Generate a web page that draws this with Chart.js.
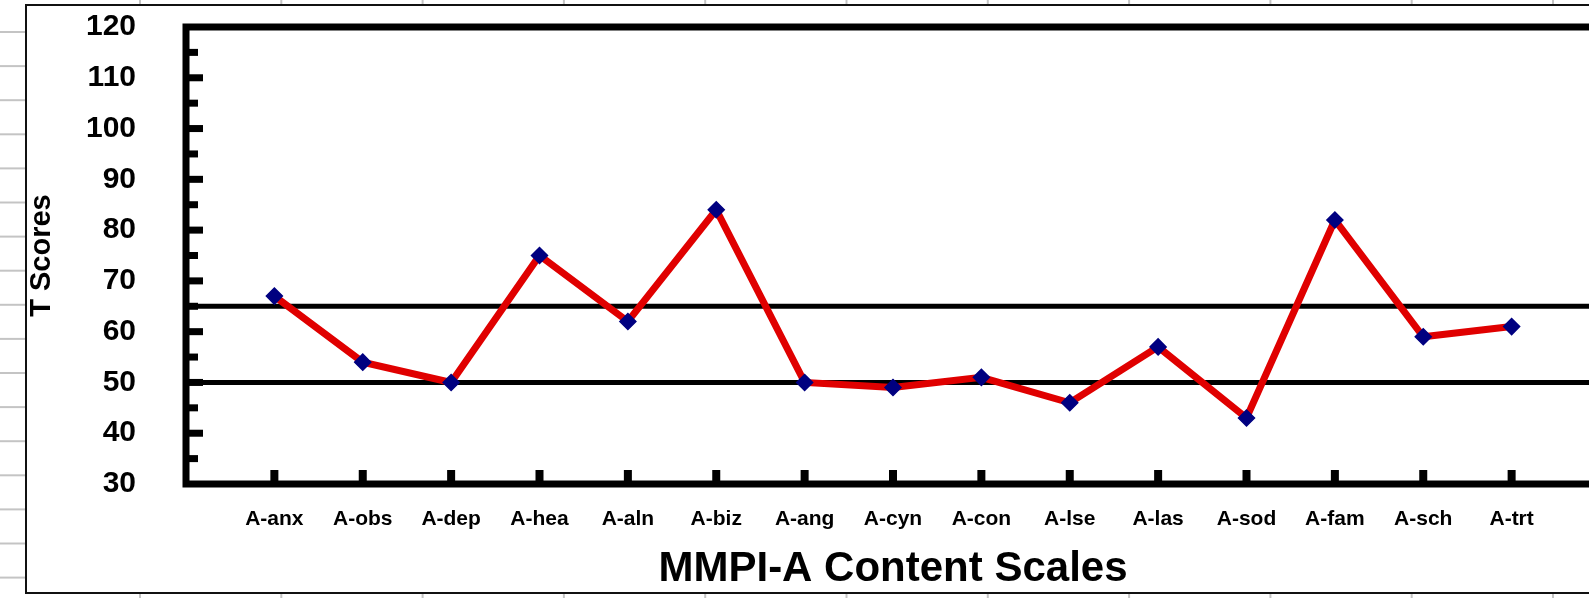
<!DOCTYPE html>
<html>
<head>
<meta charset="utf-8">
<script src="https://cdn.jsdelivr.net/npm/chart.js@4"></script>
<style>
  html, body { margin: 0; padding: 0; overflow: hidden; background: #fff; }
  #chart { display: block; }
</style>
</head>
<body>
<canvas id="chart" width="1650" height="598"></canvas>
<script>
const scales  = ['A-anx', 'A-obs', 'A-dep', 'A-hea', 'A-aln', 'A-biz', 'A-ang', 'A-cyn',
                 'A-con', 'A-lse', 'A-las', 'A-sod', 'A-fam', 'A-sch', 'A-trt'];
const tScores = [67, 54, 50, 75, 62, 84, 50, 49, 51, 46, 57, 43, 82, 59, 61];
const refLines = [50, 65];
const yMin = 30, yMax = 120;

const FONT = '"Liberation Sans", Arial, Helvetica, sans-serif';

// spreadsheet cells, outer frame, reference lines, plot border and inside ticks
const decor = {
  id: 'decor',
  beforeDraw(chart) {
    const ctx = chart.ctx;
    ctx.save();
    ctx.fillStyle = '#fff';
    ctx.fillRect(0, 0, chart.width, chart.height);
    ctx.strokeStyle = '#c4c4c4';
    ctx.lineWidth = 2;
    for (let yy = 32; yy < chart.height; yy += 34.1) {
      ctx.beginPath(); ctx.moveTo(0, yy); ctx.lineTo(26, yy); ctx.stroke();
    }
    for (let xx = 140; xx < chart.width; xx += 141.3) {
      ctx.beginPath(); ctx.moveTo(xx, 0); ctx.lineTo(xx, 5); ctx.stroke();
      ctx.beginPath(); ctx.moveTo(xx, 593); ctx.lineTo(xx, chart.height); ctx.stroke();
    }
    ctx.strokeStyle = '#111';
    ctx.lineWidth = 2;
    ctx.strokeRect(26, 5, chart.width, 588);
    ctx.restore();
  },
  beforeDatasetsDraw(chart) {
    const { ctx, chartArea: a, scales: { y } } = chart;
    ctx.save();
    ctx.strokeStyle = '#000';
    ctx.lineWidth = 5;
    refLines.forEach(v => {
      const py = y.getPixelForValue(v);
      ctx.beginPath(); ctx.moveTo(a.left, py); ctx.lineTo(a.right, py); ctx.stroke();
    });
    ctx.restore();
  },
  afterDatasetsDraw(chart) {
    const { ctx, chartArea: a, scales: { x, y } } = chart;
    ctx.save();
    ctx.fillStyle = '#000';
    y.ticks.forEach(t => {
      if (t.value <= y.min || t.value >= y.max) return;
      const py = y.getPixelForValue(t.value);
      const len = t.value % 10 === 0 ? 17 : 12;
      ctx.fillRect(a.left, py - 3.5, len, 7);
    });
    x.ticks.forEach(t => {
      if (t.value <= x.min || t.value >= x.max) return;
      const px = x.getPixelForValue(t.value);
      ctx.fillRect(px - 4, a.bottom - 14, 8, 14);
    });
    ctx.strokeStyle = '#000';
    ctx.lineWidth = 7;
    ctx.strokeRect(a.left, a.top, a.right - a.left, a.bottom - a.top);
    ctx.restore();
  }
};

const ctx = document.getElementById('chart').getContext('2d');

const chart = new Chart(ctx, {
  type: 'line',
  data: {
    datasets: [{
      label: 'T Scores',
      data: tScores.map((v, i) => ({ x: i + 1, y: v })),
      borderColor: '#e00000',
      borderWidth: 7,
      tension: 0,
      pointStyle: 'rectRot',
      pointRadius: 8,
      pointBackgroundColor: '#000080',
      pointBorderColor: '#000080',
      pointBorderWidth: 1.5,
      fill: false
    }]
  },
  options: {
    responsive: false,
    animation: false,
    events: [],
    layout: { padding: { left: 0, top: 27, right: 50, bottom: 0 } },
    plugins: {
      legend: { display: false },
      tooltip: { enabled: false }
    },
    scales: {
      x: {
        type: 'linear',
        min: 0,
        max: scales.length + 1,
        grid: { display: false, drawTicks: false },
        border: { display: false },
        ticks: {
          stepSize: 1,
          autoSkip: false,
          maxRotation: 0,
          padding: 23,
          color: '#000',
          font: { family: FONT, size: 21, weight: 'bold' },
          callback: v => scales[v - 1] || ''
        },
        title: {
          display: true,
          text: 'MMPI-A Content Scales',
          color: '#000',
          font: { family: FONT, size: 42, weight: 'bold' },
          padding: { top: 0, bottom: 3 }
        },
        afterFit(s) { s.height = 114; }
      },
      y: {
        min: yMin,
        max: yMax,
        // invisible tick marks just push the labels left of the plot
        grid: { display: true, drawOnChartArea: false, drawTicks: true, tickLength: 50, color: 'rgba(0,0,0,0)' },
        border: { display: false },
        ticks: {
          stepSize: 5,
          autoSkip: false,
          padding: 0,
          color: '#000',
          font: { family: FONT, size: 30, weight: 'bold' },
          callback: v => (v % 10 === 0 ? v : '')
        },
        title: {
          display: true,
          text: 'T Scores',
          color: '#000',
          font: { family: FONT, size: 29, weight: 'bold' },
          padding: { top: 25, bottom: 0 }
        },
        afterFit(s) { s.width = 186; }
      }
    }
  },
  plugins: [decor]
});
</script>
</body>
</html>
